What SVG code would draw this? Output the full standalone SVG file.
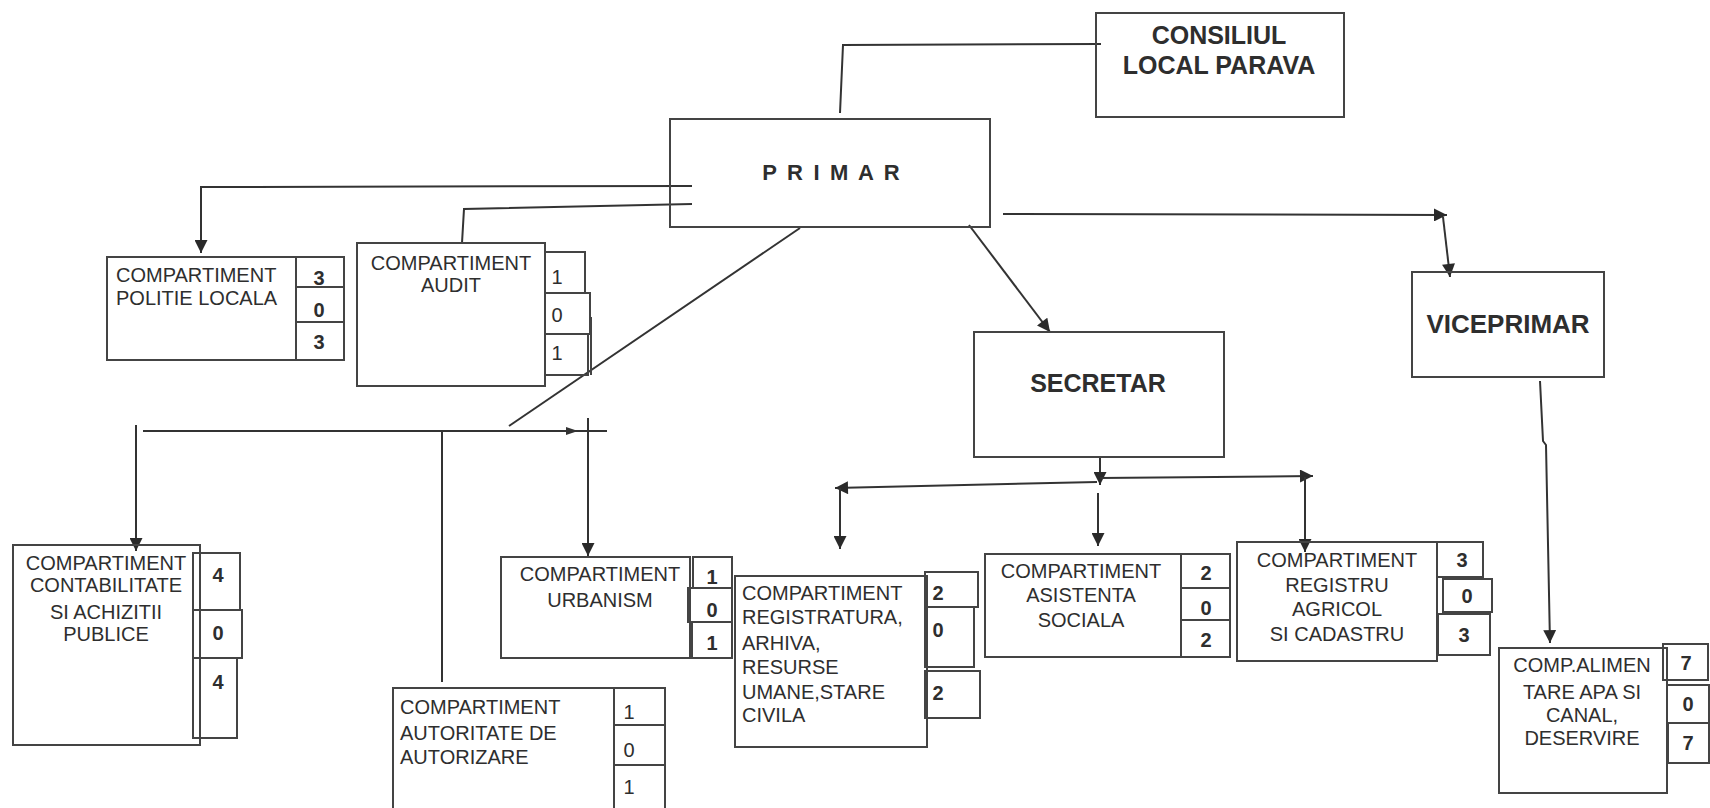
<svg xmlns="http://www.w3.org/2000/svg" width="1710" height="808" viewBox="0 0 1710 808">
<defs>
<marker id="arr" viewBox="0 0 10 10" refX="10" refY="5" markerUnits="userSpaceOnUse" markerWidth="14" markerHeight="13" orient="auto">
<path d="M0,0 L10,5 L0,10 z" fill="#2a2a2a"/>
</marker>
<style>
.b{fill:none;stroke:#444;stroke-width:2}
.c{fill:none;stroke:#333;stroke-width:2}
.ln{stroke:#444;stroke-width:2}
text{font-family:"Liberation Sans",Arial,sans-serif;fill:#2e2e2e}
.t{font-size:20px}
.h{font-size:25px;font-weight:bold;fill:#2e2e2e}
.n{font-size:20px;text-anchor:middle}
.nb{font-size:20px;text-anchor:middle;font-weight:bold}
.m{text-anchor:middle}
</style>
</defs>

<g id="connectors">
<polyline class="c" points="1101,44 843,45 840,113"/>
<polyline class="c" points="692,186 201,187 201,253" marker-end="url(#arr)"/>
<polyline class="c" points="692,204 464,209 462,243"/>
<line class="c" x1="800" y1="228" x2="509" y2="426"/>
<line class="c" x1="143" y1="431" x2="607" y2="431"/>
<path d="M566,427 L578,431 L566,435 z" fill="#333"/>
<line class="c" x1="136" y1="425" x2="136" y2="551" marker-end="url(#arr)"/>
<line class="c" x1="442" y1="431" x2="442" y2="682"/>
<line class="c" x1="588" y1="418" x2="588" y2="556" marker-end="url(#arr)"/>
<line class="c" x1="969" y1="225" x2="1050" y2="332" marker-end="url(#arr)"/>
<line class="c" x1="1003" y1="214" x2="1447" y2="215" marker-end="url(#arr)"/>
<line class="c" x1="1443" y1="217" x2="1450" y2="277" marker-end="url(#arr)"/>
<polyline class="c" points="1540,381 1543,441 1546,445 1550,643" marker-end="url(#arr)"/>
<line class="c" x1="1100" y1="457" x2="1100" y2="485" marker-end="url(#arr)"/>
<line class="c" x1="1097" y1="482" x2="835" y2="488" marker-end="url(#arr)"/>
<line class="c" x1="1100" y1="478" x2="1313" y2="476" marker-end="url(#arr)"/>
<line class="c" x1="840" y1="488" x2="840" y2="549" marker-end="url(#arr)"/>
<line class="c" x1="1098" y1="493" x2="1098" y2="546" marker-end="url(#arr)"/>
<line class="c" x1="1305" y1="477" x2="1305" y2="552" marker-end="url(#arr)"/>
</g>

<g id="consiliul">
<rect class="b" x="1096" y="13" width="248" height="104"/>
<text class="h m" x="1219" y="44">CONSILIUL</text>
<text class="h m" x="1219" y="74">LOCAL PARAVA</text>
</g>

<g id="primar">
<rect class="b" x="670" y="119" width="320" height="108"/>
<text class="m" x="832" y="180" style="font-size:22px;font-weight:bold;letter-spacing:2.2px">P R I M A R</text>
</g>

<g id="politie">
<rect class="b" x="107" y="257" width="237" height="103"/>
<line class="ln" x1="296" y1="257" x2="296" y2="360"/>
<line class="ln" x1="296" y1="287" x2="344" y2="287"/>
<line class="ln" x1="296" y1="322" x2="344" y2="322"/>
<text class="t" x="116" y="282">COMPARTIMENT</text>
<text class="t" x="116" y="305">POLITIE LOCALA</text>
<text class="nb" x="319" y="285">3</text>
<text class="nb" x="319" y="317">0</text>
<text class="nb" x="319" y="349">3</text>
</g>

<g id="audit">
<rect class="b" x="357" y="243" width="188" height="143"/>
<rect class="b" x="545" y="252" width="40" height="41"/>
<rect class="b" x="545" y="293" width="45" height="41"/>
<rect class="b" x="545" y="334" width="43" height="41"/>
<line class="ln" x1="591" y1="317" x2="591" y2="375"/>
<text class="t m" x="451" y="270">COMPARTIMENT</text>
<text class="t m" x="451" y="292">AUDIT</text>
<text class="n" x="557" y="284">1</text>
<text class="n" x="557" y="322">0</text>
<text class="n" x="557" y="360">1</text>
</g>

<g id="contabilitate">
<rect class="b" x="13" y="545" width="187" height="200"/>
<rect class="b" x="193" y="553" width="47" height="57"/>
<rect class="b" x="193" y="610" width="49" height="48"/>
<rect class="b" x="193" y="658" width="44" height="80"/>
<text class="t m" x="106" y="570">COMPARTIMENT</text>
<text class="t m" x="106" y="592">CONTABILITATE</text>
<text class="t m" x="106" y="619">SI ACHIZITII</text>
<text class="t m" x="106" y="641">PUBLICE</text>
<text class="nb" x="218" y="582">4</text>
<text class="nb" x="218" y="640">0</text>
<text class="nb" x="218" y="689">4</text>
</g>

<g id="autoritate">
<rect class="b" x="393" y="688" width="221" height="130"/>
<rect class="b" x="614" y="688" width="51" height="37"/>
<rect class="b" x="614" y="725" width="51" height="40"/>
<rect class="b" x="614" y="765" width="51" height="53"/>
<text class="t" x="400" y="714">COMPARTIMENT</text>
<text class="t" x="400" y="740">AUTORITATE DE</text>
<text class="t" x="400" y="764">AUTORIZARE</text>
<text class="n" x="629" y="719">1</text>
<text class="n" x="629" y="757">0</text>
<text class="n" x="629" y="794">1</text>
</g>

<g id="urbanism">
<rect class="b" x="501" y="557" width="189" height="101"/>
<rect class="b" x="693" y="557" width="39" height="31"/>
<rect class="b" x="688" y="588" width="44" height="34"/>
<rect class="b" x="692" y="622" width="40" height="36"/>
<text class="t m" x="600" y="581">COMPARTIMENT</text>
<text class="t m" x="600" y="607">URBANISM</text>
<text class="nb" x="712" y="584">1</text>
<text class="nb" x="712" y="617">0</text>
<text class="nb" x="712" y="650">1</text>
</g>

<g id="registratura">
<rect class="b" x="735" y="576" width="192" height="171"/>
<rect class="b" x="925" y="572" width="53" height="35"/>
<rect class="b" x="925" y="607" width="49" height="60"/>
<rect class="b" x="925" y="671" width="55" height="47"/>
<text class="t" x="742" y="600">COMPARTIMENT</text>
<text class="t" x="742" y="624">REGISTRATURA,</text>
<text class="t" x="742" y="650">ARHIVA,</text>
<text class="t" x="742" y="674">RESURSE</text>
<text class="t" x="742" y="699">UMANE,STARE</text>
<text class="t" x="742" y="722">CIVILA</text>
<text class="nb" x="938" y="600">2</text>
<text class="nb" x="938" y="637">0</text>
<text class="nb" x="938" y="700">2</text>
</g>

<g id="secretar">
<rect class="b" x="974" y="332" width="250" height="125"/>
<text class="h m" x="1098" y="392">SECRETAR</text>
</g>

<g id="asistenta">
<rect class="b" x="985" y="554" width="196" height="103"/>
<rect class="b" x="1181" y="554" width="49" height="34"/>
<rect class="b" x="1181" y="588" width="49" height="32"/>
<rect class="b" x="1181" y="620" width="49" height="37"/>
<text class="t m" x="1081" y="578">COMPARTIMENT</text>
<text class="t m" x="1081" y="602">ASISTENTA</text>
<text class="t m" x="1081" y="627">SOCIALA</text>
<text class="nb" x="1206" y="580">2</text>
<text class="nb" x="1206" y="615">0</text>
<text class="nb" x="1206" y="647">2</text>
</g>

<g id="registru">
<rect class="b" x="1237" y="542" width="200" height="119"/>
<rect class="b" x="1437" y="542" width="46" height="35"/>
<rect class="b" x="1443" y="579" width="49" height="33"/>
<rect class="b" x="1438" y="614" width="52" height="41"/>
<text class="t m" x="1337" y="567">COMPARTIMENT</text>
<text class="t m" x="1337" y="592">REGISTRU</text>
<text class="t m" x="1337" y="616">AGRICOL</text>
<text class="t m" x="1337" y="641">SI CADASTRU</text>
<text class="nb" x="1462" y="567">3</text>
<text class="nb" x="1467" y="603">0</text>
<text class="nb" x="1464" y="642">3</text>
</g>

<g id="viceprimar">
<rect class="b" x="1412" y="272" width="192" height="105"/>
<text class="h m" x="1508" y="333" style="font-size:26px">VICEPRIMAR</text>
</g>

<g id="alimentare">
<rect class="b" x="1499" y="648" width="168" height="145"/>
<rect class="b" x="1663" y="644" width="45" height="36"/>
<rect class="b" x="1667" y="685" width="42" height="38"/>
<rect class="b" x="1668" y="723" width="41" height="40"/>
<text class="t m" x="1582" y="672">COMP.ALIMEN</text>
<text class="t m" x="1582" y="699">TARE APA SI</text>
<text class="t m" x="1582" y="722">CANAL,</text>
<text class="t m" x="1582" y="745">DESERVIRE</text>
<text class="nb" x="1686" y="670">7</text>
<text class="nb" x="1688" y="711">0</text>
<text class="nb" x="1688" y="750">7</text>
</g>
</svg>
